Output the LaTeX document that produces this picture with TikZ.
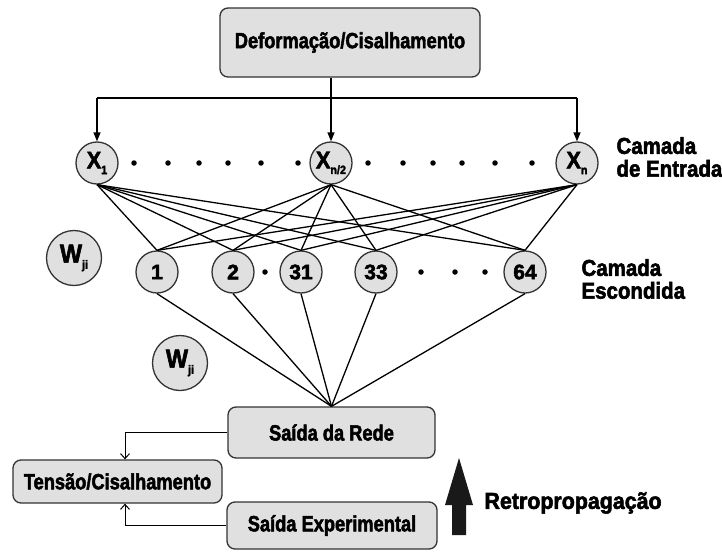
\documentclass[tikz,border=0pt]{standalone}
\usepackage{graphicx}
\usepackage{fontspec}
\setmainfont{Liberation Sans}[BoldFeatures={FakeBold=2.5}]
\usetikzlibrary{arrows.meta}

\newcommand{\sob}[1]{\raisebox{-0.45ex}{\fontsize{12}{12}\selectfont #1}}
\newcommand{\cond}[2][0.83]{\scalebox{#1}[1]{#2}}

\tikzset{
  neuronio/.style={circle, draw=black!80, fill=black!12, line width=1.3pt,
    minimum size=42pt, inner sep=0pt, font=\bfseries\fontsize{21}{21}\selectfont},
  entrada/.style={neuronio, font=\bfseries\fontsize{24}{24}\selectfont},
  peso/.style={neuronio, minimum size=55pt, font=\bfseries\fontsize{26}{26}\selectfont},
  bloco/.style={rounded corners=8pt, draw=black!80, fill=black!12, line width=1.3pt,
    inner sep=0pt, font=\bfseries\fontsize{22}{22}\selectfont},
  rotulo/.style={anchor=west, align=left, font=\bfseries\fontsize{23}{20.5}\selectfont},
  ponto/.style={circle, fill=black, inner sep=0pt, minimum size=5.5pt},
  liga/.style={draw=black, line width=1.3pt},
  seta/.style={liga, -{Triangle[length=9pt,width=7pt]}},
  volta/.style={draw=black, line width=1pt, -{Straight Barb[length=5pt,width=9pt]}},
}

\begin{document}
\begin{tikzpicture}[x=1pt,y=-1pt]
\useasboundingbox (0,0) rectangle (722,551);

% blocos
\node [bloco, minimum width=260pt, minimum height=69pt] (deform) at (350,42.5) {\cond{Deformação/Cisalhamento}};
\node [bloco, minimum width=207pt, minimum height=51pt] (rede) at (331.5,432.5) {\cond{Saída da Rede}};
\node [bloco, minimum width=209pt, minimum height=43pt] (tensao) at (117.5,481.5) {\cond{Tensão/Cisalhamento}};
\node [bloco, minimum width=210pt, minimum height=47pt] (exper) at (332,525.5) {\cond{Saída Experimental}};

% camada de entrada
\node [entrada] (x1) at (97,163) {\cond[0.9]{X\sob{1}}};
\node [entrada] (xm) at (331,163) {\cond[0.9]{X\sob{n/2}}};
\node [entrada] (xn) at (577,163) {\cond[0.9]{X\sob{n}}};
\foreach \px [count=\i] in {134,168,199,228,261,298,368,403,433,462,495,532}
  \node [ponto] (pe\i) at (\px,163) {};

% camada escondida
\node [neuronio] (h1) at (157,272) {1};
\node [neuronio] (h2) at (233,272) {2};
\node [neuronio] (h31) at (301,272) {31};
\node [neuronio] (h33) at (376,272) {33};
\node [neuronio] (h64) at (525,272) {64};
\foreach \px [count=\i] in {265,421,455,485}
  \node [ponto] (pm\i) at (\px,272) {};

% pesos
\node [peso] (w1) at (74,258) {\cond[0.9]{W\sob{ji}}};
\node [peso] (w2) at (180,363) {\cond[0.9]{W\sob{ji}}};

% rotulos
\node [rotulo] (lent) at (613,160) {\cond[0.89]{\begin{tabular}{@{}l@{}}Camada\\de Entrada\end{tabular}}};
\node [rotulo] (lesc) at (578,282) {\cond[0.89]{\begin{tabular}{@{}l@{}}Camada\\Escondida\end{tabular}}};
\node [rotulo] (lret) at (481,503) {\cond[0.93]{Retropropagação}};

% entradas
\coordinate (barra) at (331,98);
\draw [liga] (x1.north |- barra) -- (xn.north |- barra);
\draw [seta] (x1.north |- barra) -- (x1.north);
\draw [seta] (xn.north |- barra) -- (xn.north);
\draw [seta] (deform.south -| xm.north) -- (xm.north);

% ligacoes
\foreach \a in {x1,xm,xn}
  \foreach \b in {h1,h2,h31,h33,h64}
    \draw [liga] (\a.south) -- (\b.north);
\foreach \b in {h1,h2,h31,h33,h64}
  \draw [liga] (\b.south) -- (rede.north);

% realimentacao
\draw [volta] (rede.west) -| ([xshift=7.5pt]tensao.north);
\draw [volta] (exper.west) -| ([xshift=7.5pt]tensao.south);

% seta grande
\fill [black!90] (452,535) -- (452,505) -- (445,505) -- (459,458) -- (473,505) -- (466,505) -- (466,535) -- cycle;
\end{tikzpicture}
\end{document}
